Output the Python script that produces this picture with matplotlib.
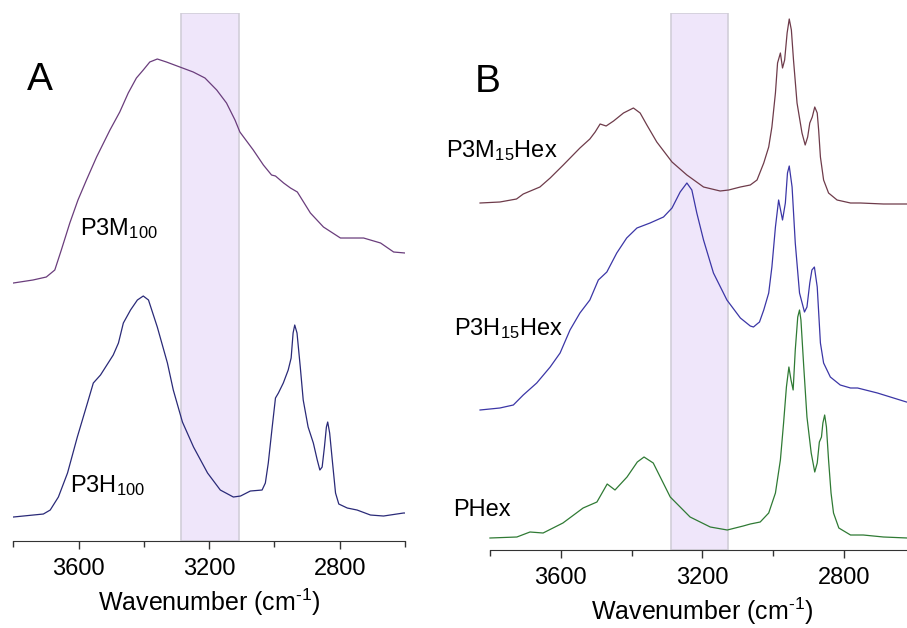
import matplotlib
matplotlib.use("Agg")
import numpy as np
import matplotlib.pyplot as plt
from matplotlib.ticker import MultipleLocator

plt.rcParams['font.family'] = ['Liberation Sans', 'DejaVu Sans']
plt.rcParams['mathtext.fontset'] = 'custom'
plt.rcParams['mathtext.rm'] = 'Liberation Sans'
plt.rcParams['mathtext.it'] = 'Liberation Sans'

# panel A data (wavenumber, offset absorbance)
p3m100_wn = [3800, 3740, 3699, 3673, 3653, 3627, 3602, 3576, 3545, 3504, 3474, 3448,
             3423, 3402, 3382, 3359, 3331, 3290, 3249, 3213, 3177, 3147, 3121, 3106,
             3065, 3034, 3009, 2997, 2972, 2951, 2930, 2890, 2850, 2798, 2727, 2675,
             2635, 2600]
p3m100_abs = [2.58, 2.61, 2.64, 2.71, 2.91, 3.18, 3.41, 3.61, 3.84, 4.11, 4.29, 4.48,
              4.63, 4.71, 4.79, 4.82, 4.79, 4.74, 4.69, 4.63, 4.51, 4.38, 4.21, 4.09,
              3.91, 3.76, 3.66, 3.65, 3.58, 3.53, 3.49, 3.28, 3.14, 3.03, 3.03, 2.98,
              2.89, 2.88]

p3h100_wn = [3800, 3739, 3708, 3687, 3662, 3634, 3604, 3573, 3555, 3533, 3494, 3478,
             3463, 3441, 3420, 3402, 3386, 3359, 3328, 3310, 3282, 3248, 3205, 3166,
             3126, 3104, 3074, 3038, 3028, 3019, 3007, 2997, 2988, 2973, 2958, 2949,
             2943, 2938, 2931, 2921, 2912, 2897, 2881, 2869, 2861, 2854, 2847, 2841,
             2837, 2831, 2823, 2813, 2803, 2777, 2747, 2706, 2666, 2605, 2600]
p3h100_abs = [0.24, 0.26, 0.27, 0.31, 0.44, 0.68, 1.04, 1.38, 1.58, 1.66, 1.86, 1.98,
              2.18, 2.31, 2.41, 2.45, 2.41, 2.14, 1.78, 1.51, 1.19, 0.94, 0.68, 0.51,
              0.44, 0.45, 0.50, 0.51, 0.58, 0.78, 1.14, 1.43, 1.48, 1.58, 1.71, 1.83,
              2.08, 2.16, 2.08, 1.74, 1.41, 1.14, 0.98, 0.81, 0.71, 0.74, 0.94, 1.14,
              1.19, 1.08, 0.81, 0.48, 0.37, 0.33, 0.31, 0.26, 0.25, 0.28, 0.28]

# panel B data
p3m15_wn = [3828, 3772, 3725, 3706, 3659, 3630, 3593, 3546, 3518, 3503, 3489, 3472,
            3451, 3423, 3395, 3376, 3357, 3329, 3286, 3244, 3197, 3150, 3126, 3093,
            3065, 3046, 3027, 3013, 3004, 2994, 2988, 2980, 2974, 2968, 2961, 2955,
            2949, 2943, 2933, 2919, 2910, 2903, 2897, 2890, 2883, 2876, 2872, 2867,
            2858, 2844, 2820, 2782, 2754, 2689, 2624]
p3m15_abs = [3.47, 3.48, 3.51, 3.56, 3.63, 3.72, 3.85, 4.02, 4.11, 4.18, 4.26, 4.24,
             4.29, 4.37, 4.42, 4.37, 4.25, 4.08, 3.88, 3.75, 3.63, 3.59, 3.60, 3.63,
             3.65, 3.70, 3.87, 4.03, 4.23, 4.57, 4.87, 4.97, 4.82, 4.90, 5.17, 5.31,
             5.20, 4.90, 4.47, 4.17, 4.05, 4.13, 4.27, 4.33, 4.43, 4.37, 4.20, 3.93,
             3.70, 3.57, 3.50, 3.47, 3.47, 3.46, 3.46]

p3h15_wn = [3828, 3772, 3734, 3706, 3668, 3630, 3602, 3574, 3546, 3518, 3494, 3470,
            3442, 3414, 3385, 3348, 3310, 3286, 3263, 3244, 3230, 3216, 3197, 3169,
            3131, 3093, 3065, 3056, 3046, 3039, 3027, 3013, 3004, 2994, 2985, 2974,
            2966, 2960, 2955, 2947, 2938, 2926, 2912, 2905, 2897, 2891, 2884, 2876,
            2867, 2858, 2839, 2811, 2782, 2762, 2706, 2624]
p3h15_abs = [1.40, 1.42, 1.45, 1.55, 1.67, 1.83, 1.97, 2.20, 2.37, 2.50, 2.70, 2.78,
             2.97, 3.12, 3.22, 3.27, 3.33, 3.42, 3.58, 3.67, 3.60, 3.37, 3.10, 2.77,
             2.50, 2.32, 2.24, 2.23, 2.26, 2.28, 2.40, 2.57, 2.83, 3.23, 3.50, 3.30,
             3.47, 3.77, 3.84, 3.63, 3.07, 2.57, 2.38, 2.43, 2.67, 2.80, 2.83, 2.63,
             2.07, 1.87, 1.73, 1.65, 1.62, 1.62, 1.57, 1.48]

phex_wn = [3800, 3724, 3687, 3650, 3594, 3537, 3498, 3469, 3447, 3413, 3384, 3365,
           3339, 3291, 3235, 3178, 3130, 3085, 3065, 3037, 3013, 2994, 2980, 2971,
           2963, 2956, 2950, 2944, 2938, 2931, 2926, 2922, 2914, 2905, 2893, 2883,
           2876, 2870, 2864, 2860, 2855, 2850, 2844, 2837, 2830, 2815, 2782, 2746,
           2689, 2621]
phex_abs = [0.12, 0.13, 0.18, 0.17, 0.27, 0.42, 0.48, 0.66, 0.60, 0.73, 0.88, 0.93,
            0.87, 0.53, 0.33, 0.23, 0.20, 0.24, 0.26, 0.28, 0.37, 0.57, 0.90, 1.27,
            1.63, 1.83, 1.70, 1.60, 2.00, 2.33, 2.40, 2.30, 1.83, 1.33, 0.97, 0.78,
            0.87, 1.08, 1.13, 1.27, 1.35, 1.23, 0.90, 0.57, 0.37, 0.22, 0.15, 0.15,
            0.13, 0.12]

band_a = (3285, 3110)
band_b = (3288, 3127)

fig = plt.figure(figsize=(9.07, 6.28), dpi=100)
ax1 = fig.add_axes([0.0147, 0.1385, 0.4319, 0.8408])
ax2 = fig.add_axes([0.5402, 0.1242, 0.4686, 0.8551])


def style(ax, ytop):
    ax.set_xlim(3800, 2600)
    ax.set_ylim(0, ytop)
    for s in ['top', 'right', 'left']:
        ax.spines[s].set_visible(False)
    ax.spines['bottom'].set_color('#333333')
    ax.set_yticks([])
    ax.xaxis.set_major_locator(MultipleLocator(400))
    ax.xaxis.set_minor_locator(MultipleLocator(200))
    ax.tick_params(axis='x', which='major', direction='out', length=6, width=1,
                   labelsize=17, pad=6, color='#333333')
    ax.tick_params(axis='x', which='minor', direction='out', length=4, width=1,
                   color='#333333')
    ax.set_xlabel('Wavenumber (cm$^{\\text{-1}}$)', fontsize=18, labelpad=5)


style(ax1, 5.28)
style(ax2, 5.37)

ax1.axvspan(band_a[0], band_a[1], facecolor='#efe6fa', edgecolor='#d2ced9', lw=1.2, zorder=0)
ax2.axvspan(band_b[0], band_b[1], facecolor='#efe6fa', edgecolor='#d2ced9', lw=1.2, zorder=0)

ax1.plot(p3m100_wn, p3m100_abs, color='#6a3d7c', lw=0.9)
ax1.plot(p3h100_wn, p3h100_abs, color='#2a2a78', lw=0.9)

ax2.plot(p3m15_wn, p3m15_abs, color='#6e3b4a', lw=0.9, clip_on=False)
ax2.plot(p3h15_wn, p3h15_abs, color='#3b36a6', lw=0.9, clip_on=False)
ax2.plot(phex_wn, phex_abs, color='#2f7a34', lw=0.9, clip_on=False)

ax1.text(3758, 4.51, 'A', fontsize=28, va='baseline')
ax1.text(3595, 3.06, 'P3M$_{\\mathregular{100}}$', fontsize=17, va='baseline')
ax1.text(3626, 0.49, 'P3H$_{\\mathregular{100}}$', fontsize=17, va='baseline')

ax2.text(3842, 4.58, 'B', fontsize=28, va='baseline')
ax2.text(3608, 3.93, 'P3M$_{\\mathregular{15}}$Hex', fontsize=17, va='baseline', ha='right')
ax2.text(3594, 2.15, 'P3H$_{\\mathregular{15}}$Hex', fontsize=17, va='baseline', ha='right')
ax2.text(3905, 0.34, 'PHex', fontsize=17, va='baseline')

fig.savefig('out.png', dpi=100)
